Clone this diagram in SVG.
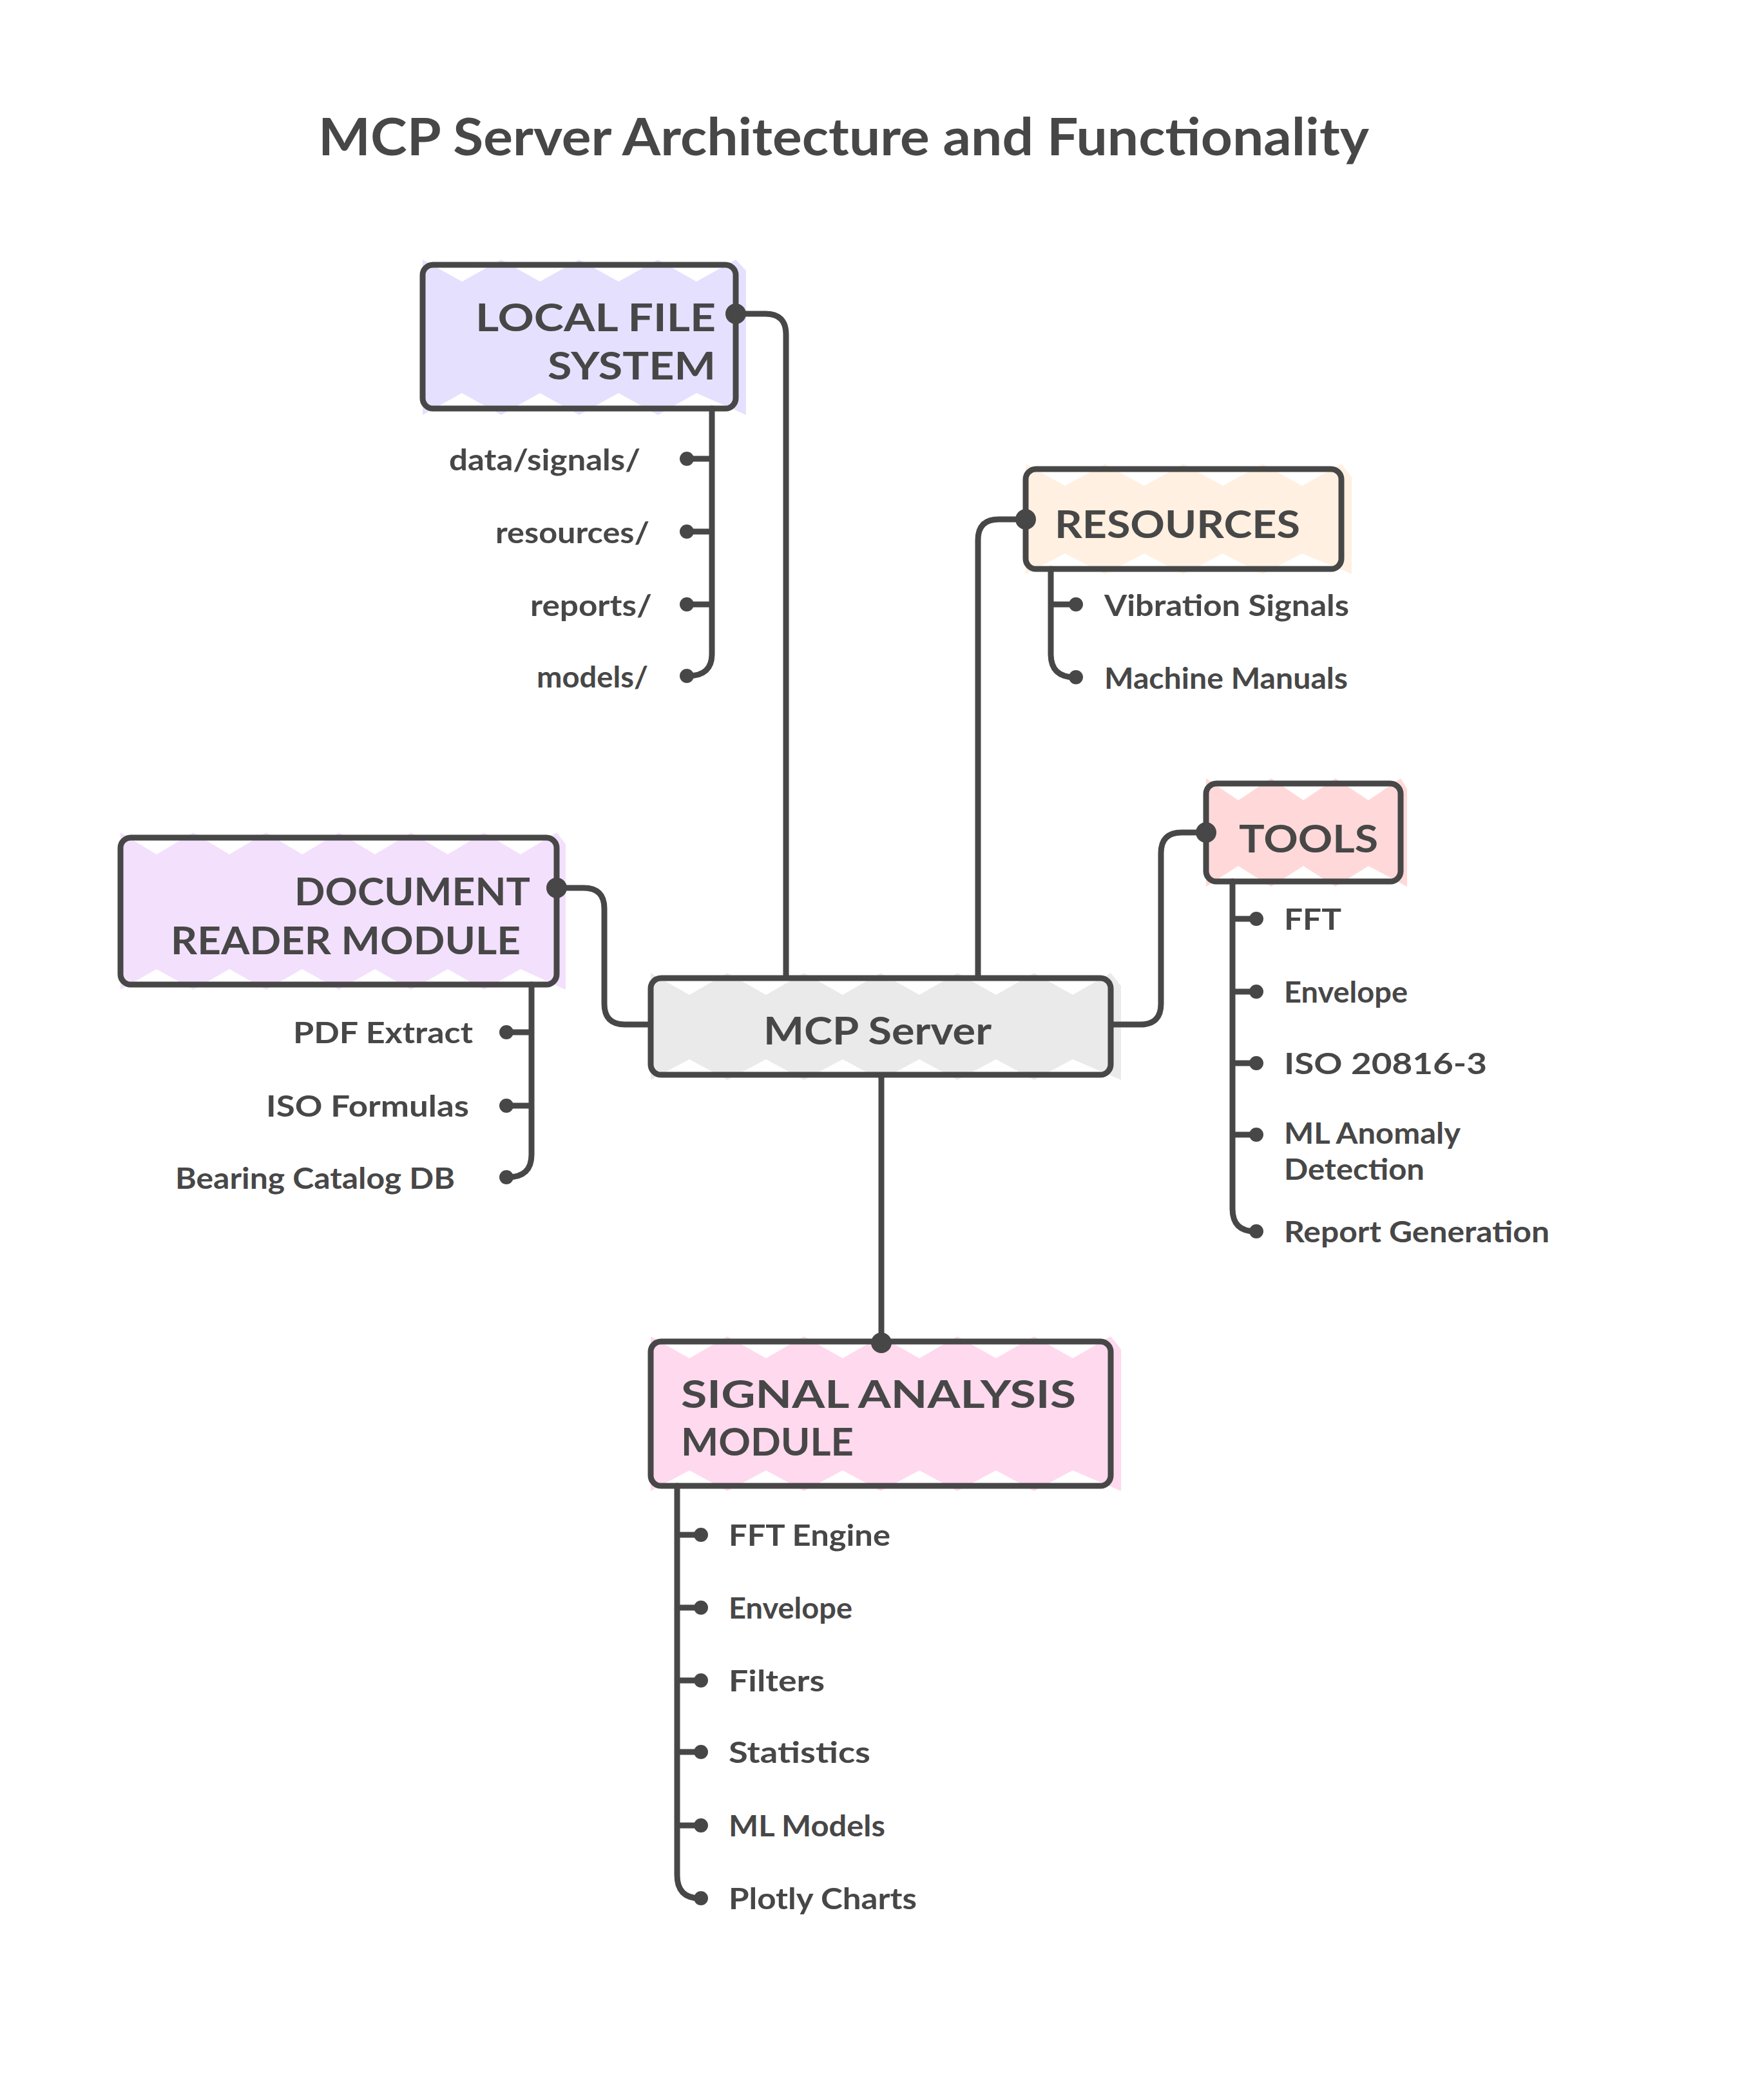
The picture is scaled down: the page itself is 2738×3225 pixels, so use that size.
<svg xmlns="http://www.w3.org/2000/svg" width="2738" height="3225" viewBox="0 0 2738 3225">
<defs>
<style>
.bg{fill:#ffffff}
.box{fill:none;stroke:#474747;stroke-width:9;stroke-linejoin:round}
.edge{fill:none;stroke:#474747;stroke-width:9;stroke-linecap:round;stroke-linejoin:round}
.dot{fill:#474747;stroke:#474747;stroke-width:4}
.edot{fill:#474747;stroke:#474747;stroke-width:4}
.title{font-family:Lato,"Open Sans","Liberation Sans",sans-serif;font-weight:700;font-size:80px;fill:#474747}
.nt{font-family:Lato,"Open Sans","Liberation Sans",sans-serif;font-weight:700;font-size:60px;fill:#474747}
.lb{font-family:Lato,"Open Sans","Liberation Sans",sans-serif;font-weight:700;font-size:46px;fill:#474747}
</style>
</defs>
<rect class="bg" x="0" y="0" width="2738" height="3225"/>
<text class="title" x="494" y="241" textLength="1631" lengthAdjust="spacingAndGlyphs">MCP Server Architecture and Functionality</text>

<g id="node-lfs">
<polygon fill="#e6e0ff" points="656,403 717,437 778,403 838,437 899,403 960,437 1021,403 1081,437 1142,403 1158,420 1158,644 1081,610 1021,644 960,610 899,644 838,610 778,644 717,610 656,644"/>
<rect class="box" x="656" y="411" width="486" height="223" rx="16"/>
<text class="nt" x="1111" y="514" text-anchor="end" textLength="373" lengthAdjust="spacingAndGlyphs">LOCAL FILE</text>
<text class="nt" x="1111" y="589" text-anchor="end" textLength="261" lengthAdjust="spacingAndGlyphs">SYSTEM</text>
<path class="edge" d="M1105,634 V1015 Q1105,1049 1068,1049 M1105,712 H1068 M1105,825 H1068 M1105,938 H1068"/>
<circle class="dot" cx="1066" cy="712" r="9"/>
<circle class="dot" cx="1066" cy="825" r="9"/>
<circle class="dot" cx="1066" cy="938" r="9"/>
<circle class="dot" cx="1066" cy="1049" r="9"/>
<text class="lb" x="697" y="730" textLength="297" lengthAdjust="spacingAndGlyphs">data/signals/</text>
<text class="lb" x="769" y="843" textLength="239" lengthAdjust="spacingAndGlyphs">resources/</text>
<text class="lb" x="823" y="956" textLength="189" lengthAdjust="spacingAndGlyphs">reports/</text>
<text class="lb" x="833" y="1067" textLength="173" lengthAdjust="spacingAndGlyphs">models/</text>
</g>

<g id="node-resources">
<polygon fill="#fff0e1" points="1592,720 1653,754 1715,720 1776,754 1837,720 1898,754 1960,720 2021,754 2082,720 2098,740 2098,891 2021,859 1960,891 1898,859 1837,891 1776,859 1715,891 1653,859 1592,891"/>
<rect class="box" x="1592" y="728" width="490" height="155" rx="16"/>
<text class="nt" x="1637" y="835" textLength="381" lengthAdjust="spacingAndGlyphs">RESOURCES</text>
<path class="edge" d="M1631,883 V1015 Q1631,1051 1668,1051 M1631,938 H1668"/>
<circle class="dot" cx="1670" cy="938" r="9"/>
<circle class="dot" cx="1670" cy="1051" r="9"/>
<text class="lb" x="1714" y="956" textLength="380" lengthAdjust="spacingAndGlyphs">Vibration Signals</text>
<text class="lb" x="1714" y="1069" textLength="378" lengthAdjust="spacingAndGlyphs">Machine Manuals</text>
</g>

<g id="node-tools">
<polygon fill="#ffd9d9" points="1872,1208 1922,1242 1973,1208 2023,1242 2073,1208 2124,1242 2174,1208 2184,1224 2184,1376 2124,1344 2073,1376 2023,1344 1973,1376 1922,1344 1872,1376"/>
<rect class="box" x="1872" y="1216" width="302" height="152" rx="16"/>
<text class="nt" x="1923" y="1323" textLength="216" lengthAdjust="spacingAndGlyphs">TOOLS</text>
<path class="edge" d="M1913,1368 V1876 Q1913,1911 1948,1911 M1913,1426 H1948 M1913,1539 H1948 M1913,1650 H1948 M1913,1761 H1948"/>
<circle class="dot" cx="1950" cy="1426" r="9"/>
<circle class="dot" cx="1950" cy="1539" r="9"/>
<circle class="dot" cx="1950" cy="1650" r="9"/>
<circle class="dot" cx="1950" cy="1761" r="9"/>
<circle class="dot" cx="1950" cy="1911" r="9"/>
<text class="lb" x="1993" y="1443" textLength="89" lengthAdjust="spacingAndGlyphs">FFT</text>
<text class="lb" x="1993" y="1556" textLength="192" lengthAdjust="spacingAndGlyphs">Envelope</text>
<text class="lb" x="1993" y="1667" textLength="315" lengthAdjust="spacingAndGlyphs">ISO 20816-3</text>
<text class="lb" x="1993" y="1775" textLength="274" lengthAdjust="spacingAndGlyphs">ML Anomaly</text>
<text class="lb" x="1993" y="1831" textLength="218" lengthAdjust="spacingAndGlyphs">Detection</text>
<text class="lb" x="1993" y="1928" textLength="412" lengthAdjust="spacingAndGlyphs">Report Generation</text>
</g>

<g id="node-doc">
<polygon fill="#f3e0fd" points="187,1292 243,1326 300,1292 356,1326 413,1292 469,1326 526,1292 582,1326 638,1292 695,1326 751,1292 808,1326 864,1292 878,1310 878,1536 808,1504 751,1536 695,1504 638,1536 582,1504 526,1536 469,1504 413,1536 356,1504 300,1536 243,1504 187,1536"/>
<rect class="box" x="187" y="1300" width="677" height="228" rx="16"/>
<text class="nt" x="823" y="1405" text-anchor="end" textLength="366" lengthAdjust="spacingAndGlyphs">DOCUMENT</text>
<text class="nt" x="808" y="1481" text-anchor="end" textLength="543" lengthAdjust="spacingAndGlyphs">READER MODULE</text>
<path class="edge" d="M825,1528 V1792 Q825,1827 788,1827 M825,1602 H788 M825,1716 H788"/>
<circle class="dot" cx="786" cy="1602" r="9"/>
<circle class="dot" cx="786" cy="1716" r="9"/>
<circle class="dot" cx="786" cy="1827" r="9"/>
<text class="lb" x="455" y="1619" textLength="279" lengthAdjust="spacingAndGlyphs">PDF Extract</text>
<text class="lb" x="413" y="1733" textLength="315" lengthAdjust="spacingAndGlyphs">ISO Formulas</text>
<text class="lb" x="272" y="1845" textLength="434" lengthAdjust="spacingAndGlyphs">Bearing Catalog DB</text>
</g>

<g id="node-mcp">
<polygon fill="#eaeaea" points="1010,1510 1070,1544 1129,1510 1189,1544 1248,1510 1308,1544 1367,1510 1427,1544 1486,1510 1546,1544 1605,1510 1665,1544 1724,1510 1740,1530 1740,1676 1665,1644 1605,1676 1546,1644 1486,1676 1427,1644 1367,1676 1308,1644 1248,1676 1189,1644 1129,1676 1070,1644 1010,1676"/>
<rect class="box" x="1010" y="1518" width="714" height="150" rx="16"/>
<text class="nt" x="1185" y="1621" textLength="354" lengthAdjust="spacingAndGlyphs">MCP Server</text>
</g>

<g id="node-signal">
<polygon fill="#ffd9ee" points="1010,2074 1070,2108 1129,2074 1189,2108 1248,2074 1308,2108 1367,2074 1427,2108 1486,2074 1546,2108 1605,2074 1665,2108 1724,2074 1740,2094 1740,2314 1665,2282 1605,2314 1546,2282 1486,2314 1427,2282 1367,2314 1308,2282 1248,2314 1189,2282 1129,2314 1070,2282 1010,2314"/>
<rect class="box" x="1010" y="2082" width="714" height="224" rx="16"/>
<text class="nt" x="1057" y="2185" textLength="613" lengthAdjust="spacingAndGlyphs">SIGNAL ANALYSIS</text>
<text class="nt" x="1057" y="2259" textLength="268" lengthAdjust="spacingAndGlyphs">MODULE</text>
<path class="edge" d="M1051,2306 V2910 Q1051,2946 1086,2946 M1051,2382 H1086 M1051,2495 H1086 M1051,2608 H1086 M1051,2719 H1086 M1051,2833 H1086"/>
<circle class="dot" cx="1088" cy="2382" r="9"/>
<circle class="dot" cx="1088" cy="2495" r="9"/>
<circle class="dot" cx="1088" cy="2608" r="9"/>
<circle class="dot" cx="1088" cy="2719" r="9"/>
<circle class="dot" cx="1088" cy="2833" r="9"/>
<circle class="dot" cx="1088" cy="2946" r="9"/>
<text class="lb" x="1131" y="2399" textLength="251" lengthAdjust="spacingAndGlyphs">FFT Engine</text>
<text class="lb" x="1131" y="2512" textLength="192" lengthAdjust="spacingAndGlyphs">Envelope</text>
<text class="lb" x="1131" y="2625" textLength="149" lengthAdjust="spacingAndGlyphs">Filters</text>
<text class="lb" x="1131" y="2736" textLength="220" lengthAdjust="spacingAndGlyphs">Statistics</text>
<text class="lb" x="1131" y="2850" textLength="243" lengthAdjust="spacingAndGlyphs">ML Models</text>
<text class="lb" x="1131" y="2963" textLength="292" lengthAdjust="spacingAndGlyphs">Plotly Charts</text>
</g>

<g id="connectors">
<path class="edge" d="M1146,487 H1188 Q1220,487 1220,519 V1514"/>
<circle class="edot" cx="1142" cy="487" r="14"/>
<path class="edge" d="M1518,1514 V838 Q1518,806 1550,806 H1588"/>
<circle class="edot" cx="1592" cy="806" r="14"/>
<path class="edge" d="M1728,1590 H1770 Q1802,1590 1802,1558 V1324 Q1802,1292 1834,1292 H1868"/>
<circle class="edot" cx="1872" cy="1292" r="14"/>
<path class="edge" d="M1006,1590 H970 Q938,1590 938,1558 V1410 Q938,1378 906,1378 H868"/>
<circle class="edot" cx="864" cy="1378" r="14"/>
<path class="edge" d="M1368,1672 V2080"/>
<circle class="edot" cx="1368" cy="2084" r="14"/>
</g>
</svg>
